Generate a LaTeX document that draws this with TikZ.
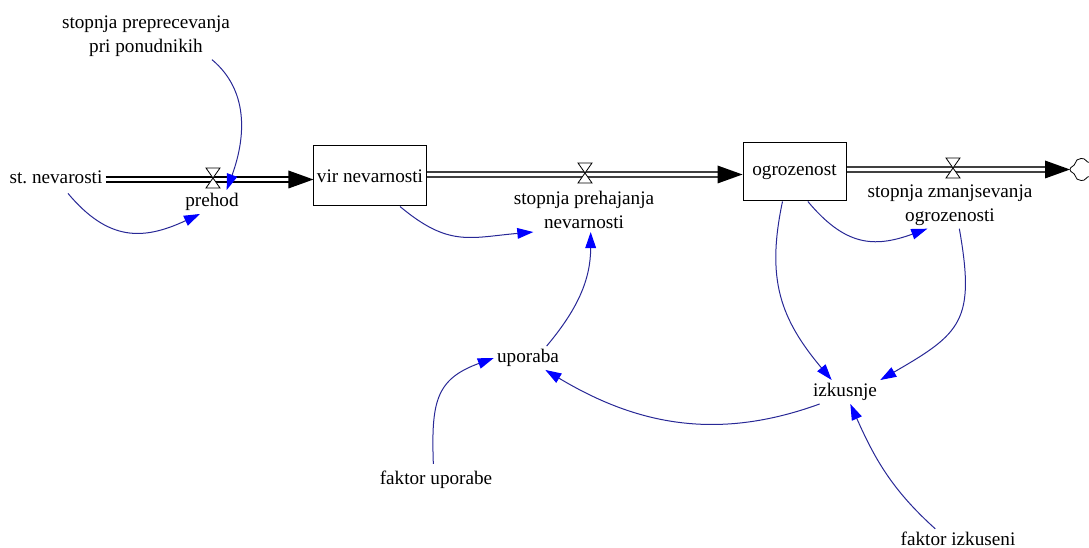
\documentclass[tikz,border=0pt]{standalone}
\usepackage{fontspec}
\setmainfont{Liberation Serif}
\usetikzlibrary{arrows.meta}
\definecolor{linkblue}{RGB}{40,40,150}

\begin{document}
\begin{tikzpicture}[x = 0.75pt, y = -0.75pt,
  every node/.style = {font=\fontsize{14.4}{18}\selectfont, inner sep=2.25pt, align=center},
  stock/.style = {draw, line width=0.75pt},
  pipe/.style = {draw=#1, double=white, double distance=2.8pt, line width=0.95pt},
  pipe/.default = black,
  valve/.style = {draw, fill=white, line width=0.6pt},
  link/.style = {linkblue, line width=0.75pt, -{Triangle[length=12pt, width=8pt, color=blue]}}]

\useasboundingbox (0, 0) rectangle (1089, 548);

\node (prep) at (146, 36) {stopnja preprecevanja\\pri ponudnikih};
\node (stnev) at (56, 177) {st.\ nevarosti};
\node (prehod) at (212, 202) {prehod};
\node[stock, minimum width=82.5pt, minimum height=45pt] (vir) at (370, 176) {vir nevarnosti};
\node (preh) at (584, 210) {stopnja prehajanja\\nevarnosti};
\node[stock, minimum width=77.25pt, minimum height=43.5pt] (ogro) at (794.5, 172) {ogrozenost};
\node (zmanj) at (950, 205) {stopnja zmanjsevanja\\ogrozenosti};
\node (upor) at (528, 358) {uporaba};
\node (izk) at (845, 392) {izkusnje};
\node (fup) at (436, 480) {faktor uporabe};
\node (fiz) at (958, 539) {faktor izkuseni};

\coordinate (v1) at (213, 179.5);
\coordinate (v2) at (585, 174.5);
\coordinate (v3) at (953, 169.5);
\coordinate (h1) at (vir.west |- v1);
\coordinate (h2) at (ogro.west |- v2);
\coordinate (cloud) at (1070, 169.5);

\draw[pipe] (stnev.east |- v1) -- ([xshift=-18pt]h1);
\draw[pipe=black!75] (vir.east |- v2) -- ([xshift=-18pt]h2);
\draw[pipe=black!75] (ogro.east |- v3) -- ([xshift=-18pt]cloud);
\fill (h1) -- ++(-25, -9) -- ++(0, 18) -- cycle;
\fill (h2) -- ++(-25, -9) -- ++(0, 18) -- cycle;
\fill (cloud) -- ++(-25, -9) -- ++(0, 18) -- cycle;

\draw[valve] ([shift={(-7, -11.5)}]v1) -- ++(14, 0) -- ++(-14, 20) -- ++(14, 0) -- cycle;
\draw[valve] ([shift={(-7, -11.5)}]v2) -- ++(14, 0) -- ++(-14, 20) -- ++(14, 0) -- cycle;
\draw[valve] ([shift={(-7, -11.5)}]v3) -- ++(14, 0) -- ++(-14, 20) -- ++(14, 0) -- cycle;

\draw[line width=0.6pt] (cloud) to[out=90, in=-100] ++(5, -6) to[out=80, in=180] ++(6, -5) to[out=0, in=120] ++(5, 2) to[out=-60, in=180] ++(4, 2);
\draw[line width=0.6pt] (cloud) to[out=-90, in=100] ++(5, 6) to[out=-80, in=180] ++(6, 5) to[out=0, in=-120] ++(5, -2) to[out=60, in=180] ++(4, -2);

\draw[link] ([xshift=49.5pt]prep.south) to[out=-40, in=70] ([xshift=11pt]prehod.north);
\draw[link] ([xshift=9pt, yshift=-5pt]stnev.south) to[out=-50, in=-155, looseness=1.2] ([xshift=-9pt]prehod.south);
\draw[link] ([xshift=22.5pt]vir.south) to[out=-40, in=-175, looseness=1.2] ([xshift=-38pt]preh.south);
\draw[link] ([xshift=14pt]upor.north) to[out=50, in=-90] ([xshift=5pt]preh.south);
\draw[link] ([xshift=10pt]ogro.south) to[out=-50, in=-160, looseness=1.2] ([xshift=-17pt]zmanj.south);
\draw[link] ([xshift=-9pt]ogro.south) to[out=-102, in=130, looseness=1.1] ([xshift=-10pt]izk.north);
\draw[link] ([xshift=7pt]zmanj.south) to[out=-80, in=30, looseness=1.4] (izk.north east);
\draw[link] ([xshift=-19pt]izk.south) to[out=200, in=-31] ([xshift=13pt]upor.south);
\draw[link] ([xshift=-2pt, yshift=3pt]fup.north) to[out=92, in=-160, looseness=1.3] (upor.west);
\draw[link] ([xshift=-17pt]fiz.north) to[out=138, in=-66] ([xshift=4pt]izk.south);

\end{tikzpicture}
\end{document}
